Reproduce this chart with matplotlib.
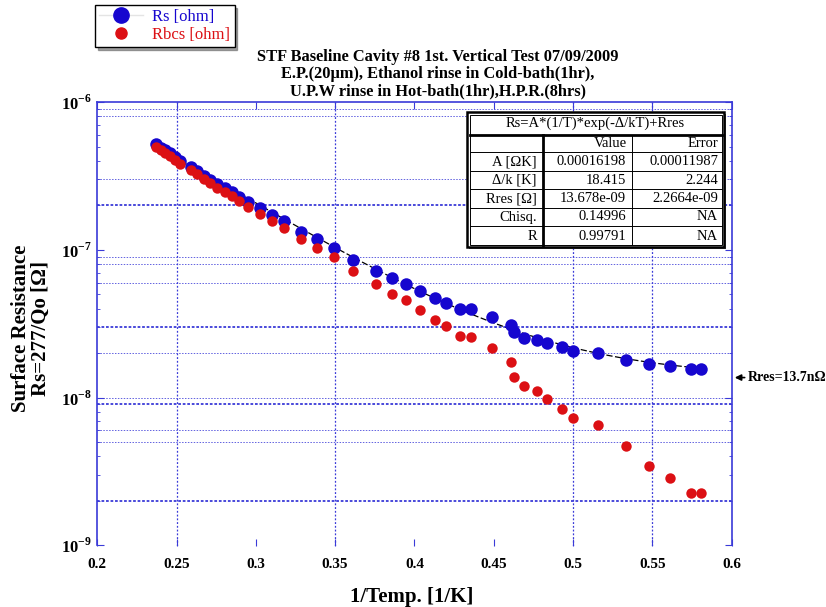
import numpy as np
import matplotlib
matplotlib.use("Agg")
import matplotlib.pyplot as plt
from matplotlib.lines import Line2D
from matplotlib.patches import Rectangle
from matplotlib.ticker import FixedLocator, NullFormatter, FuncFormatter

plt.rcParams['font.family'] = ['Liberation Serif', 'DejaVu Serif']
plt.rcParams['mathtext.fontset'] = 'custom'
plt.rcParams['mathtext.rm'] = 'Liberation Serif'
plt.rcParams['mathtext.bf'] = 'Liberation Serif:bold'

# ---- measured data: 1/T [1/K], Rs and Rbcs [ohm]
inv_T = [0.2371, 0.2402, 0.2428, 0.2459, 0.2491, 0.2522, 0.2591, 0.2629, 0.2673,
         0.2711, 0.2755, 0.2806, 0.2850, 0.2894, 0.2951, 0.3026, 0.3102, 0.3178,
         0.3283, 0.3384, 0.3496, 0.3616, 0.3758, 0.3857, 0.3947, 0.4038, 0.4130,
         0.4198, 0.4288, 0.4360, 0.4487, 0.4612, 0.4625, 0.4688, 0.4770, 0.4839,
         0.4931, 0.5000, 0.5160, 0.5332, 0.5479, 0.5612, 0.5742, 0.5805]

rs = [5.195e-7, 4.918e-7, 4.732e-7, 4.515e-7, 4.243e-7, 3.986e-7, 3.630e-7, 3.411e-7,
      3.180e-7, 2.964e-7, 2.785e-7, 2.617e-7, 2.459e-7, 2.292e-7, 2.113e-7, 1.907e-7,
      1.731e-7, 1.564e-7, 1.328e-7, 1.176e-7, 1.035e-7, 8.519e-8, 7.209e-8, 6.403e-8,
      5.859e-8, 5.253e-8, 4.732e-8, 4.377e-8, 3.949e-8, 3.949e-8, 3.529e-8, 3.116e-8,
      2.785e-8, 2.537e-8, 2.474e-8, 2.335e-8, 2.194e-8, 2.077e-8, 2.007e-8, 1.805e-8,
      1.696e-8, 1.632e-8, 1.574e-8, 1.574e-8]

rbcs = [4.996e-7, 4.732e-7, 4.515e-7, 4.310e-7, 4.081e-7, 3.833e-7, 3.464e-7, 3.254e-7,
        3.034e-7, 2.829e-7, 2.637e-7, 2.477e-7, 2.310e-7, 2.147e-7, 1.955e-7, 1.736e-7,
        1.576e-7, 1.413e-7, 1.187e-7, 1.035e-7, 8.952e-8, 7.143e-8, 5.886e-8, 5.051e-8,
        4.564e-8, 3.906e-8, 3.369e-8, 3.044e-8, 2.605e-8, 2.576e-8, 2.177e-8, 1.736e-8,
        1.385e-8, 1.194e-8, 1.113e-8, 9.754e-9, 8.386e-9, 7.289e-9, 6.503e-9, 4.710e-9,
        3.449e-9, 2.859e-9, 2.263e-9, 2.263e-9]

# fit parameters: Rs = A*(1/T)*exp(-D/k * 1/T) + Rres
fit_A = 0.00016198
fit_D = 18.415
fit_Rres = 13.678e-09

table_rows = [["A [\u03a9K]", "0.00016198", "0.00011987"],
              ["\u0394/k [K]", "18.415", "2.244"],
              ["Rres [\u03a9]", "13.678e-09", "2.2664e-09"],
              ["Chisq.", "0.14996", "NA"],
              ["R", "0.99791", "NA"]]

x_ticks = [0.2, 0.25, 0.3, 0.35, 0.4, 0.45, 0.5, 0.55, 0.6]
y_ticks = [1e-9, 1e-8, 1e-7, 1e-6]
x_grid = [0.25, 0.35, 0.5, 0.55]
y_grid_heavy = [2e-7, 3e-8, 9e-9, 2e-9]
y_grid_light = [9e-7, 8e-7, 3e-7, 9e-8, 8e-8, 6e-8, 2e-8, 1e-8, 6e-9, 5e-9]

BLUE = '#1606cf'
RED = '#dc1014'
GRID = '#3a3ad8'
W, H = 826, 607


def fx(px):
    return px / W


def fy(py):
    return 1 - py / H


fig = plt.figure(figsize=(8.26, 6.07), dpi=100)
ax = fig.add_axes([fx(97.2), fy(545.5), (731.6 - 97.2) / W, (545.5 - 102) / H])

ax.set_yscale('log')
ax.set_xlim(0.2, 0.6)
ax.set_ylim(1e-9, 1e-6)

# grid lines
for gx in x_grid:
    ax.axvline(gx, color=GRID, lw=0.9, ls=(0, (1.5, 1.5)), zorder=1)
for gy in y_grid_light:
    ax.axhline(gy, color=GRID, lw=0.7, ls=(0, (1.5, 1.5)), alpha=0.8, zorder=1)
for gy in y_grid_heavy:
    ax.axhline(gy, color=GRID, lw=1.3, ls=(0, (1.5, 1.0)), zorder=1)

# fit curve
xf = np.linspace(inv_T[0], inv_T[-1], 300)
ax.plot(xf, fit_A * xf * np.exp(-fit_D * xf) + fit_Rres, color='black',
        lw=0.9, ls=(0, (5, 2)), zorder=2)

ax.plot(inv_T, rs, 'o', color=BLUE, ms=9, mew=0, zorder=3)
ax.plot(inv_T, rbcs, 'o', color=RED, ms=7.5, mew=0, zorder=4)

# axes styling
for side in ['left', 'top', 'right']:
    ax.spines[side].set_color(GRID)
    ax.spines[side].set_linewidth(1.2)
ax.spines['bottom'].set_visible(False)

ax.xaxis.set_major_locator(FixedLocator(x_ticks))
ax.xaxis.set_major_formatter(FuncFormatter(lambda v, p: ('%g' % v)))
ax.yaxis.set_major_locator(FixedLocator(y_ticks))
minors = [m * d for d in y_ticks[:-1] for m in range(2, 10)]
ax.yaxis.set_minor_locator(FixedLocator(minors))
ax.yaxis.set_minor_formatter(NullFormatter())
ax.yaxis.set_major_formatter(FuncFormatter(
    lambda v, p: r'$\mathbf{10}^{\mathbf{%d}}$' % int(round(np.log10(v)))))
ax.tick_params(axis='both', which='both', direction='in', color=GRID,
               top=True, right=True)
ax.tick_params(axis='both', which='major', length=5, labelsize=12)
ax.tick_params(axis='y', which='minor', length=2.5)
ax.tick_params(axis='x', which='major', pad=9)
for lab in ax.get_xticklabels():
    lab.set_fontweight('bold')
    lab.set_fontsize(11)

fig.text(fx(412), fy(597), '1/Temp. [1/K]', ha='center', va='center',
         fontsize=15, fontweight='bold')
fig.text(fx(31), fy(328), 'Surface Resistance\nRs=277/Qo [\u03a9]', rotation=90,
         ha='center', va='center', fontsize=15, fontweight='bold', linespacing=1.0)

fig.text(fx(438), fy(49), 'STF Baseline Cavity #8 1st. Vertical Test 07/09/2009\n'
         'E.P.(20\u03bcm), Ethanol rinse in Cold-bath(1hr),\n'
         'U.P.W rinse in Hot-bath(1hr),H.P.R.(8hrs)',
         ha='center', va='top', fontsize=11.8, fontweight='bold', linespacing=1.1)

# residual resistance marker on the right
ax.annotate('Rres=13.7n\u03a9', xy=(1.005, fit_Rres), xycoords=('axes fraction', 'data'),
            xytext=(1.025, fit_Rres), textcoords=('axes fraction', 'data'),
            va='center', ha='left', fontsize=10, fontweight='bold',
            arrowprops=dict(arrowstyle='-|>', color='black', lw=1.2,
                            mutation_scale=9, shrinkA=0, shrinkB=0))

# legend
handles = [Line2D([], [], color='#e4e4e4', lw=1, marker='o', mfc=BLUE, mec=BLUE, ms=11),
           Line2D([], [], color='none', marker='o', mfc=RED, mec=RED, ms=8)]
leg = fig.legend(handles, ['Rs [ohm]', 'Rbcs [ohm]'], loc='upper left',
                 bbox_to_anchor=(fx(95), fy(5)), fontsize=12, frameon=True,
                 fancybox=False, shadow=True, edgecolor='black', handlelength=2.6,
                 borderpad=0.25, labelspacing=0.1, handletextpad=0.6, borderaxespad=0)
leg.get_frame().set_linewidth(1.0)
for txt, c in zip(leg.get_texts(), [BLUE, RED]):
    txt.set_color(c)

# fit result table
col_x = [467, 543, 632, 724]
row_y = [112, 135, 152, 171, 189, 208, 226, 247]
tr = fig.transFigure
fig.patches.append(Rectangle((fx(col_x[0] + 2), fy(row_y[-1] + 2)),
                             (col_x[-1] - col_x[0]) / W, (row_y[-1] - row_y[0]) / H,
                             transform=tr, facecolor='#555555', edgecolor='none', zorder=5))
fig.patches.append(Rectangle((fx(col_x[0]), fy(row_y[-1])),
                             (col_x[-1] - col_x[0]) / W, (row_y[-1] - row_y[0]) / H,
                             transform=tr, facecolor='white', edgecolor='black', lw=1.8, zorder=6))
fig.patches.append(Rectangle((fx(col_x[0] + 2.5), fy(row_y[-1] - 2.5)),
                             (col_x[-1] - col_x[0] - 5) / W, (row_y[-1] - row_y[0] - 5) / H,
                             transform=tr, facecolor='none', edgecolor='black', lw=0.7, zorder=7))


def hline(py, x0, x1, lw):
    fig.lines.append(Line2D([fx(x0), fx(x1)], [fy(py), fy(py)], transform=tr,
                            color='black', lw=lw, zorder=7))


def vline(px, y0, y1, lw):
    fig.lines.append(Line2D([fx(px), fx(px)], [fy(y0), fy(y1)], transform=tr,
                            color='black', lw=lw, zorder=7))


hline(row_y[1], col_x[0] + 2.5, col_x[-1] - 2.5, 2.0)
for ry in row_y[2:-1]:
    hline(ry, col_x[0] + 2.5, col_x[-1] - 2.5, 0.7)
vline(col_x[1], row_y[1], row_y[-1] - 2.5, 2.0)
vline(col_x[2], row_y[1], row_y[-1] - 2.5, 0.7)

tfs = 10.5
fig.text(fx((col_x[0] + col_x[-1]) / 2), fy((row_y[0] + row_y[1]) / 2),
         'Rs=A*(1/T)*exp(-\u0394/kT)+Rres', ha='center', va='center', fontsize=tfs, zorder=8)
fig.text(fx(col_x[2] - 5), fy((row_y[1] + row_y[2]) / 2), 'Value',
         ha='right', va='center', fontsize=tfs, zorder=8)
fig.text(fx(col_x[3] - 6), fy((row_y[1] + row_y[2]) / 2), 'Error',
         ha='right', va='center', fontsize=tfs, zorder=8)
for i, row in enumerate(table_rows):
    yc = fy((row_y[i + 2] + row_y[i + 3]) / 2)
    for j, cell in enumerate(row):
        fig.text(fx(col_x[j + 1] - 6), yc, cell, ha='right', va='center',
                 fontsize=tfs, zorder=8)

fig.savefig('out.png', dpi=100)
